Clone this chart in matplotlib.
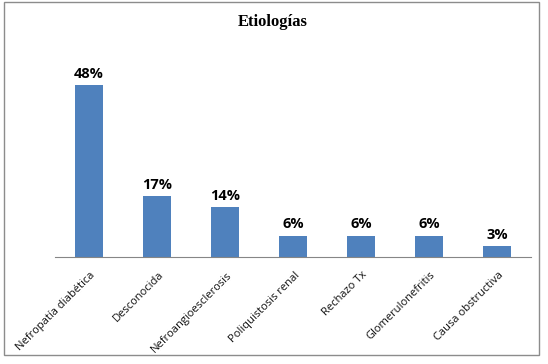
import matplotlib
matplotlib.use("Agg")
import matplotlib.pyplot as plt
from matplotlib.patches import Rectangle
from matplotlib.transforms import ScaledTranslation

categories = ["Nefropatía diabética", "Desconocida", "Nefroangioesclerosis",
              "Poliquistosis renal", "Rechazo Tx", "Glomerulonefritis", "Causa obstructiva"]
values = [48, 17, 14, 6, 6, 6, 3]
labels = ["48%", "17%", "14%", "6%", "6%", "6%", "3%"]

W, H = 548, 364
fig = plt.figure(figsize=(W/100, H/100), dpi=100)
fig.patches.append(Rectangle((4/W, (H-355)/H), 535/W, 353/H, transform=fig.transFigure,
                             fill=False, edgecolor="#8c8c8c", linewidth=1.0))

ax = fig.add_axes([55/W, (H-257)/H, 476/W, 215/H])
x = range(len(categories))
ax.bar(x, values, width=0.41, color="#4f81bd")
ax.set_xlim(-0.5, len(categories)-0.5)
ax.set_ylim(0, 60)
for xi, v, lab in zip(x, values, labels):
    ax.text(xi, v + 1.2, lab, ha="center", va="bottom", fontsize=10.5, fontweight="bold",
            family="Open Sans", color="#000000")
for s in ["top", "right", "left"]:
    ax.spines[s].set_visible(False)
ax.spines["bottom"].set_color("#868686")
ax.set_yticks([])
ax.set_xticks(list(x))
ax.set_xticklabels(categories, rotation=45, ha="right", rotation_mode="anchor",
                   fontsize=8, family="Open Sans", color="#111111")
ax.tick_params(axis="x", length=0, pad=9)
for t in ax.get_xticklabels():
    t.set_transform(t.get_transform() + ScaledTranslation(1/100, 0, fig.dpi_scale_trans))

fig.text(273/W, 1 - 22/H, "Etiologías", ha="center", va="center", fontsize=12,
         fontweight="bold", family="Liberation Serif")
fig.savefig("out.png", dpi=100)
